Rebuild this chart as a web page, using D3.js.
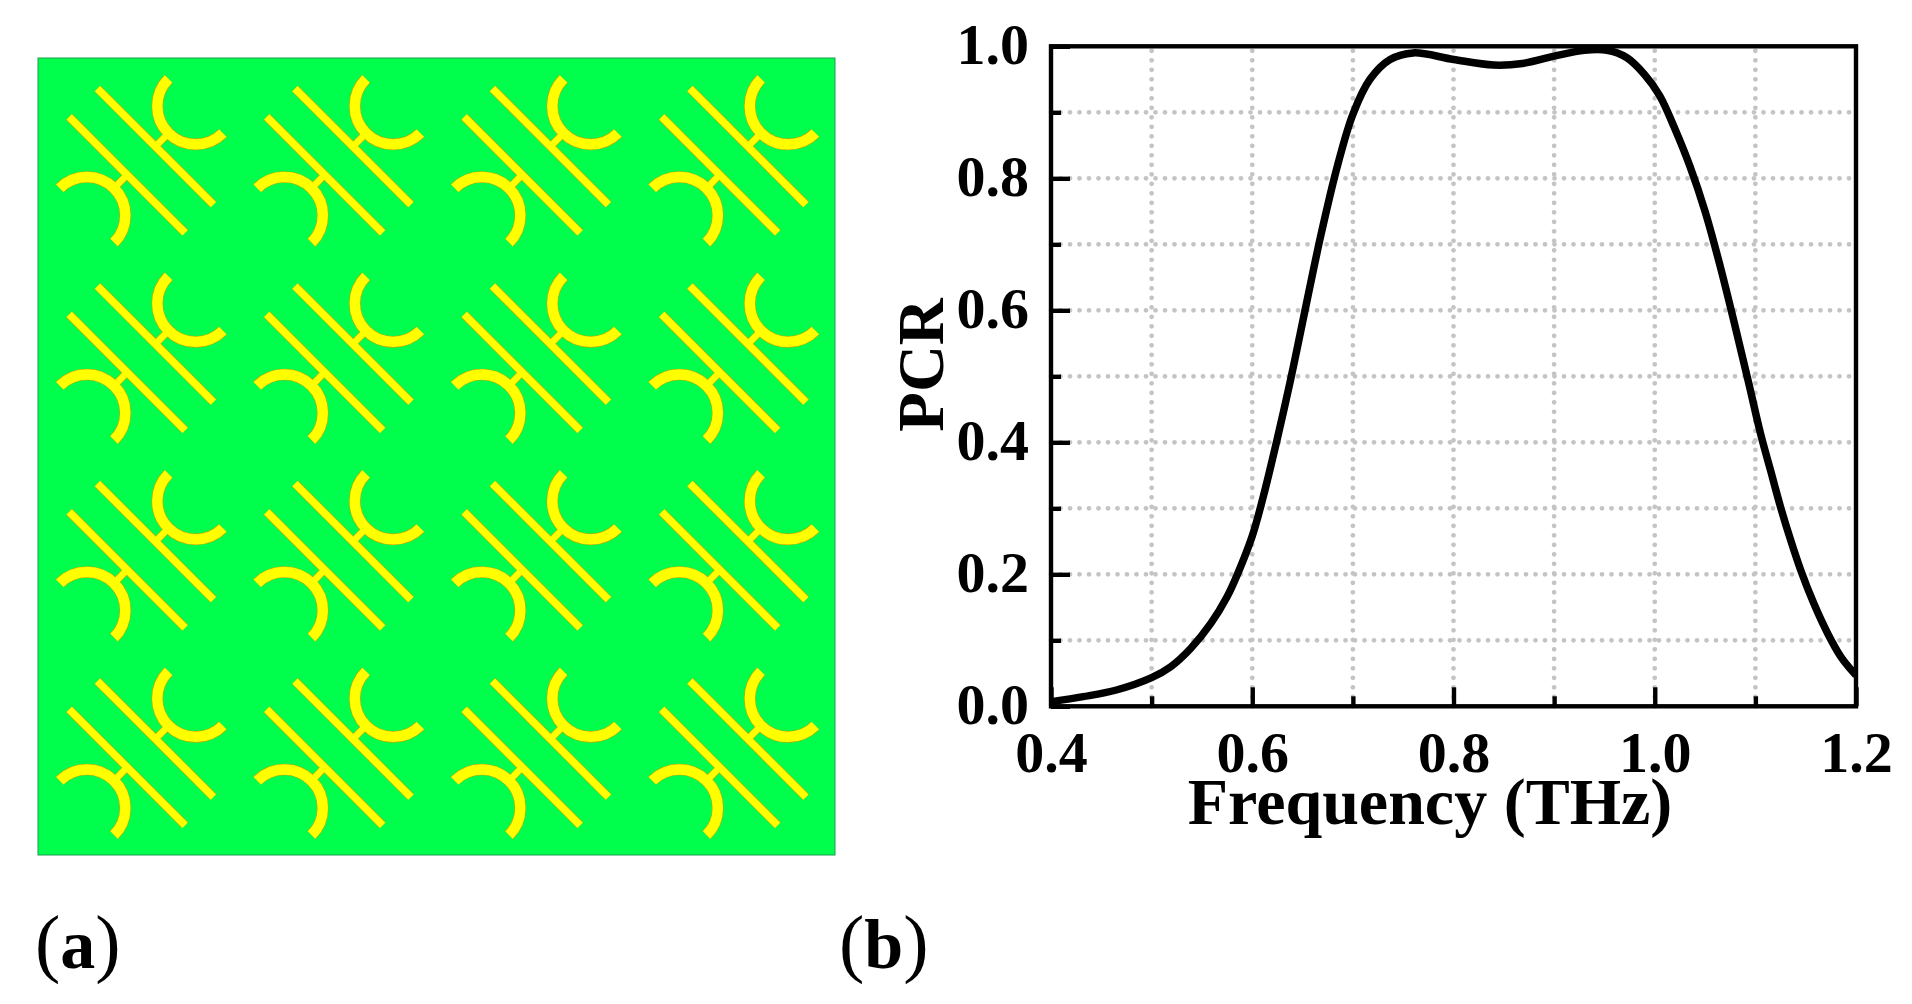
<!DOCTYPE html>
<html>
<head>
<title>PCR</title>
<script src="https://d3js.org/d3.v7.min.js"></script>
<style>
html, body { margin: 0; padding: 0; background: #fff; }
svg { display: block; }
text { font-family: "Liberation Serif", serif; fill: #000; }
</style>
</head>
<body>
<div id="chart"></div>
<script>

var width = 1912;
var height = 1004;

// PCR curve
var freq = [0.40, 0.432, 0.465, 0.50, 0.519, 0.539, 0.559, 0.575, 0.585, 0.60, 0.611, 0.6245, 0.638, 0.668, 0.6845, 0.70, 0.717, 0.737, 0.76, 0.80, 0.84, 0.8685, 0.90, 0.93, 0.9525, 0.972, 0.99, 1.005, 1.02, 1.035, 1.05, 1.065, 1.08, 1.0935, 1.105, 1.115, 1.125, 1.135, 1.145, 1.158, 1.172, 1.185, 1.20];
var pcr = [0.007, 0.0146, 0.0247, 0.0434, 0.06, 0.088, 0.126, 0.166, 0.199, 0.258, 0.318, 0.403, 0.494, 0.7125, 0.818, 0.897, 0.95, 0.98, 0.99, 0.98, 0.9716, 0.974, 0.985, 0.994, 0.994, 0.983, 0.957, 0.925, 0.875, 0.818, 0.75, 0.667, 0.575, 0.489, 0.414, 0.358, 0.302, 0.252, 0.2065, 0.156, 0.11, 0.075, 0.047];

var xMajor = [0.4, 0.6, 0.8, 1.0, 1.2];
var xMinor = [0.5, 0.7, 0.9, 1.1];
var yMajor = [0.0, 0.2, 0.4, 0.6, 0.8, 1.0];
var yMinor = [0.1, 0.3, 0.5, 0.7, 0.9];

var rows = [0, 1, 2, 3];
var cols = [0, 1, 2, 3];

var svg = d3.select("#chart")
  .append("svg")
  .attr("width", width)
  .attr("height", height);

/* panel (a), the metasurface pattern */

var panelLeft = 38, panelTop = 58, panelSize = 797;
var cell = 197.5;

svg.append("rect")
  .attr("x", panelLeft)
  .attr("y", panelTop)
  .attr("width", panelSize)
  .attr("height", panelSize)
  .style("fill", "#00ff4c")
  .style("stroke", "#1f9a50")
  .style("stroke-width", 1);

//one unit cell, centred on 0,0
var barLen = 82, barGap = 20, arcR = 38.4;
var s = Math.SQRT1_2;

function barPath(side) {
  var cx = side * barGap * s, cy = -side * barGap * s;
  var p = d3.path();
  p.moveTo(cx - barLen * s, cy - barLen * s);
  p.lineTo(cx + barLen * s, cy + barLen * s);
  return p.toString();
}

function arcPath(side) {
  var cx = side * 54.4, cy = -side * 54.7;
  var p = d3.path();
  var a0 = side > 0 ? -Math.PI * 3 / 4 : Math.PI / 4;
  p.arc(cx, cy, arcR, a0, a0 - Math.PI, true);
  return p.toString();
}

function stubPath(side) {
  var cx = side * barGap * s, cy = -side * barGap * s;
  var ax = side * 54.4 - side * arcR * s, ay = -side * 54.7 + side * arcR * s;
  var p = d3.path();
  p.moveTo(cx, cy);
  p.lineTo(ax, ay);
  return p.toString();
}

var shapes = [];
[1, -1].forEach(function (side) {
  shapes.push({d: barPath(side), w: 7});
  shapes.push({d: stubPath(side), w: 6});
  shapes.push({d: arcPath(side), w: 10});
});

var cells = svg.selectAll("g.cell")
  .data(d3.cross(rows, cols))
  .enter()
    .append("g")
    .attr("class", "cell")
    .attr("transform", function (d) {
      return "translate(" + (141.3 + d[1] * cell) + "," + (160.7 + d[0] * cell) + ")";
    });

//outline first, then the yellow over it, so joints stay clean
[{c: "#c8a800", extra: 1.6, w: 0}, {c: "#ffff00", extra: 0.4, w: 1}].forEach(function (pass) {
  cells.selectAll("path.pass" + pass.w)
    .data(shapes)
    .enter()
      .append("path")
      .attr("class", "pass" + pass.w)
      .attr("d", function (d) { return d.d; })
      .style("fill", "none")
      .style("stroke", pass.c)
      .style("stroke-width", function (d) { return d.w + pass.extra; });
});

/* panel (b), the PCR plot */

var plotLeft = 1051, plotRight = 1856, plotTop = 46.3, plotBottom = 706.3;

var x = d3.scaleLinear().domain([0.4, 1.2]).range([plotLeft, plotRight]);
var y = d3.scaleLinear().domain([0, 1]).range([plotBottom, plotTop]);

var grid = svg.append("g");

grid.selectAll("line.v")
  .data(xMajor.concat(xMinor).filter(function (d) { return d > 0.4 && d < 1.2; }))
  .enter()
    .append("line")
    .attr("class", "v")
    .attr("x1", x)
    .attr("x2", x)
    .attr("y1", plotBottom)
    .attr("y2", plotTop);

grid.selectAll("line.h")
  .data(yMajor.concat(yMinor).filter(function (d) { return d > 0 && d < 1; }))
  .enter()
    .append("line")
    .attr("class", "h")
    .attr("x1", plotLeft)
    .attr("x2", plotRight - 4)
    .attr("y1", y)
    .attr("y2", y);

grid.selectAll("line")
  .style("stroke", "#c4c4c4")
  .style("stroke-width", 4.8)
  .style("stroke-linecap", "round")
  .style("stroke-dasharray", "0 9.5");

svg.append("clipPath")
  .attr("id", "plotClip")
  .append("rect")
  .attr("x", plotLeft)
  .attr("y", plotTop - 3)
  .attr("width", plotRight - plotLeft)
  .attr("height", plotBottom - plotTop + 3);

var line = d3.line()
  .x(function (d, i) { return x(freq[i]); })
  .y(function (d) { return y(d); })
  .curve(d3.curveCatmullRom.alpha(0.5));

svg.append("path")
  .attr("d", line(pcr))
  .attr("clip-path", "url(#plotClip)")
  .style("fill", "none")
  .style("stroke", "#000")
  .style("stroke-width", 7.5);

function styleAxis(g) {
  g.selectAll("path").remove();
  g.selectAll("line").style("stroke", "#000").style("stroke-width", 4.4);
  g.selectAll("text")
    .style("font-family", '"Liberation Serif", serif')
    .style("font-size", "58px")
    .style("font-weight", "bold")
    .style("fill", "#000");
}

var fmt = d3.format(".1f");

svg.append("g")
  .attr("transform", "translate(0," + plotBottom + ")")
  .call(d3.axisBottom(x).tickValues(xMinor).tickSize(-10).tickFormat(""))
  .call(styleAxis);

svg.append("g")
  .attr("transform", "translate(0," + plotBottom + ")")
  .call(d3.axisBottom(x).tickValues(xMajor).tickSize(-19).tickPadding(25).tickFormat(fmt))
  .call(styleAxis)
  .selectAll("text").attr("dy", "0.71em");

svg.append("g")
  .attr("transform", "translate(" + plotLeft + ",0)")
  .call(d3.axisLeft(y).tickValues(yMinor).tickSize(-10).tickFormat(""))
  .call(styleAxis);

svg.append("g")
  .attr("transform", "translate(" + plotLeft + ",0)")
  .call(d3.axisLeft(y).tickValues(yMajor).tickSize(-19).tickPadding(22).tickFormat(fmt))
  .call(styleAxis)
  .selectAll("text").attr("dy", "0.29em");

svg.append("rect")
  .attr("x", plotLeft)
  .attr("y", plotTop)
  .attr("width", plotRight - plotLeft)
  .attr("height", plotBottom - plotTop)
  .style("fill", "none")
  .style("stroke", "#000")
  .style("stroke-width", 4.4);

svg.append("text")
  .attr("x", 1430)
  .attr("y", 824)
  .attr("text-anchor", "middle")
  .style("font-size", "66px")
  .style("font-weight", "bold")
  .text("Frequency (THz)");

svg.append("text")
  .attr("transform", "translate(943,365) rotate(-90)")
  .attr("text-anchor", "middle")
  .style("font-size", "65px")
  .style("font-weight", "bold")
  .text("PCR");

function panelLabel(xPos, letter) {
  var t = svg.append("text")
    .attr("x", xPos)
    .attr("y", 968)
    .style("font-size", "76px");
  t.append("tspan").text("(");
  t.append("tspan").style("font-weight", "bold").style("font-size", "70px").text(letter);
  t.append("tspan").text(")");
}

panelLabel(35, "a");
panelLabel(839, "b");

</script>
</body>
</html>
